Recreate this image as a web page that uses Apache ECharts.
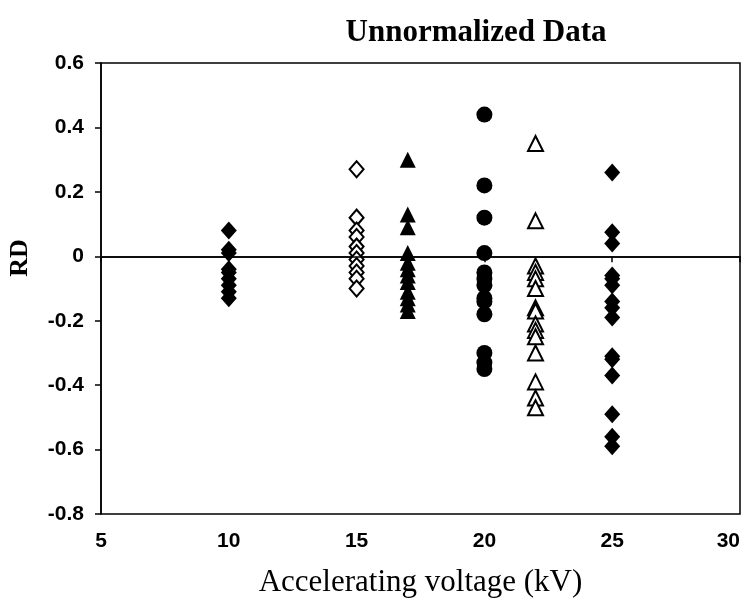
<!doctype html>
<html>
	<head>
		<meta charset="UTF-8">
		<title>Unnormalized Data</title>
		<style type="text/css">
			html, body { margin: 0; padding: 0; background: #fff; }
			#chart { width: 745px; height: 606px; }
		</style>
	</head>
	<body>
		<div id="chart"></div>
		<script src="https://cdn.jsdelivr.net/npm/echarts@6/dist/echarts.min.js"></script>
		<script type="text/javascript">
			// values, one array per voltage group
			var kv10 = [0.08, 0.02, 0.01, -0.04, -0.05, -0.07, -0.09, -0.11, -0.13];
			var kv15 = [0.27, 0.12, 0.08, 0.06, 0.03, 0.01, -0.01, -0.03, -0.05, -0.07, -0.1];
			var kv17 = [0.30, 0.13, 0.09, 0.01, -0.02, -0.04, -0.06, -0.08, -0.11, -0.13, -0.15, -0.17];
			var kv20 = [0.44, 0.22, 0.12, 0.01, -0.05, -0.07, -0.09, -0.13, -0.14, -0.18, -0.3, -0.33, -0.35];
			var kv22 = [0.35, 0.11, -0.03, -0.05, -0.07, -0.1, -0.16, -0.17, -0.21, -0.23, -0.25, -0.3, -0.39, -0.44, -0.47];
			var kv25 = [0.26, 0.075, 0.04, -0.06, -0.07, -0.09, -0.14, -0.16, -0.19, -0.31, -0.32, -0.37, -0.49, -0.56, -0.59];

			function pts(x, arr) {
				return arr.map(function (v) { return [x, v]; });
			}

			var chart = echarts.init(document.getElementById('chart'));
			var tickFont = { fontFamily: 'Liberation Sans', fontWeight: 'bold', fontSize: 21, color: '#000' };
			var axisLine = { show: true, lineStyle: { color: '#000', width: 1.5 } };
			var tick = { show: true, inside: false, length: 6, lineStyle: { color: '#000', width: 1.5 } };
			var solid = { color: '#000', opacity: 1 };
			var hollow = { color: '#000', opacity: 1, borderWidth: 1.6 };

			var option = {
				backgroundColor: '#fff',
				animation: false,
				title: {
					text: 'Unnormalized Data',
					left: 471, top: 12, textAlign: 'center',
					textStyle: { fontFamily: 'Liberation Serif', fontWeight: 'bold', fontSize: 31, color: '#000' }
				},
				grid: {
					left: 101, right: 5, top: 63, bottom: 92,
					outerBoundsMode: 'none', containLabel: false,
					show: true, borderColor: '#000', borderWidth: 1.5
				},
				xAxis: {
					type: 'value', min: 5, max: 30, interval: 5,
					axisLine: axisLine,
					axisTick: tick,
					axisLabel: Object.assign({ margin: 17, alignMaxLabel: 'right' }, tickFont),
					splitLine: { show: false },
					name: 'Accelerating voltage (kV)',
					nameLocation: 'middle', nameGap: 53,
					nameTextStyle: { fontFamily: 'Liberation Serif', fontSize: 31, color: '#000' }
				},
				yAxis: {
					type: 'value', min: -0.8, max: 0.6, interval: 0.2,
					axisLine: axisLine,
					axisTick: tick,
					axisLabel: Object.assign({ margin: 17, formatter: function (v) { return v === 0 ? '0' : v.toFixed(1); } }, tickFont),
					splitLine: { show: false }
				},
				graphic: [{
					type: 'text', x: 20, y: 258, rotation: Math.PI / 2,
					style: { text: 'RD', fontFamily: 'Liberation Serif', fontWeight: 'bold', fontSize: 26, fill: '#000', align: 'center', verticalAlign: 'middle' }
				}],
				series: [
					{ type: 'scatter', data: pts(10, kv10), symbol: 'diamond', symbolSize: [16, 18], itemStyle: solid,
						markLine: { silent: true, symbol: 'none', label: { show: false }, lineStyle: { color: '#000', width: 1.5, type: 'solid' }, data: [{ yAxis: 0 }] } },
					{ type: 'scatter', data: pts(15, kv15), symbol: 'emptyDiamond', symbolSize: [14, 16], itemStyle: hollow },
					{ type: 'scatter', data: pts(17, kv17), symbol: 'triangle', symbolSize: 16, itemStyle: solid },
					{ type: 'scatter', data: pts(20, kv20), symbol: 'circle', symbolSize: 16, itemStyle: solid },
					{ type: 'scatter', data: pts(22, kv22), symbol: 'emptyTriangle', symbolSize: 15, itemStyle: hollow },
					{ type: 'scatter', data: pts(25, kv25), symbol: 'diamond', symbolSize: [16, 18], itemStyle: solid }
				]
			};
			chart.setOption(option);
		</script>
	</body>
</html>
